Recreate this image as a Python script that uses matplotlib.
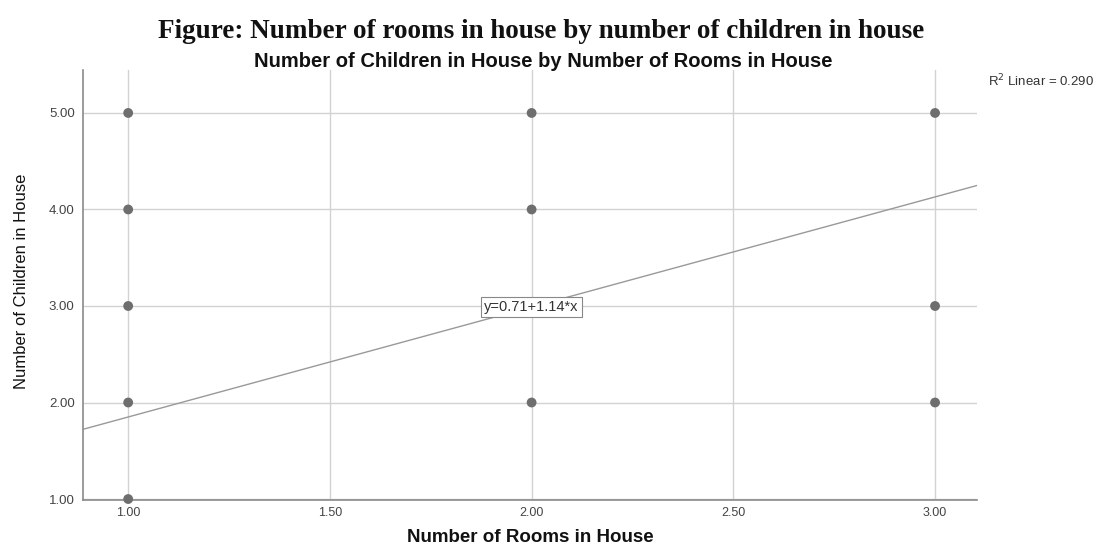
import matplotlib
matplotlib.use("Agg")
import matplotlib.pyplot as plt
import numpy as np

# Observations: rooms in house vs. children in house
rooms = [1, 1, 1, 1, 1, 2, 2, 2, 3, 3, 3]
children = [1, 2, 3, 4, 5, 2, 4, 5, 2, 3, 5]

# Linear fit reported for the data
intercept = 0.71
slope = 1.14
r_squared = 0.290

x_ticks = [1.0, 1.5, 2.0, 2.5, 3.0]
y_ticks = [1.0, 2.0, 3.0, 4.0, 5.0]

W, H = 1099, 550
fig = plt.figure(figsize=(W / 100, H / 100), dpi=100)
ax = fig.add_axes([83 / W, 50 / H, (977 - 83) / W, (500 - 70) / H])

xmin, xmax = 0.888, 3.104
ymin, ymax = 0.99, 5.445
ax.set_xlim(xmin, xmax)
ax.set_ylim(ymin, ymax)

ax.set_xticks(x_ticks)
ax.set_yticks(y_ticks)
ax.set_xticklabels([f"{v:.2f}" for v in x_ticks])
ax.set_yticklabels([f"{v:.2f}" for v in y_ticks])
ax.tick_params(axis="x", length=0, labelsize=9, labelcolor="#444444", pad=5,
               labelfontfamily="Liberation Sans")
ax.tick_params(axis="y", length=0, labelsize=9.5, labelcolor="#444444", pad=6,
               labelfontfamily="Liberation Sans")
ax.grid(True, color="#d2d2d2", linewidth=1.0)
ax.set_axisbelow(True)

for side in ["top", "right"]:
    ax.spines[side].set_visible(False)
for side in ["left", "bottom"]:
    ax.spines[side].set_color("#8a8a8a")
    ax.spines[side].set_linewidth(1.2)

# Fit line across the whole x range
xs = np.array([xmin, xmax])
ax.plot(xs, intercept + slope * xs, color="#999999", linewidth=1.0, zorder=2)

ax.scatter(rooms, children, s=50, color="#6e6e6e", edgecolors="none",
           zorder=3, clip_on=False)

ax.text(2.0, intercept + slope * 2.0 + 0.0, f"y={intercept:.2f}+{slope:.2f}*x",
        ha="center", va="center", fontsize=10.5, color="#333333",
        family="Liberation Sans", zorder=4,
        bbox=dict(boxstyle="square,pad=0.22", facecolor="white",
                  edgecolor="#888888", linewidth=0.8))

fig.text(530 / W, 1 - 542 / H, "Number of Rooms in House", fontsize=13.5,
         fontweight="bold", family="Liberation Sans", color="#111111",
         ha="center", va="baseline")
fig.text(22 / W, 1 - 281 / H, "Number of Children in House", fontsize=12,
         family="Liberation Sans", color="#111111", rotation=90,
         ha="center", va="center")

fig.text(988 / W, 1 - 81 / H, "R$^2$ Linear = 0.290", fontsize=9.5,
         family="Liberation Sans", color="#333333", ha="left", va="center")

fig.text(541 / W, 1 - 38 / H,
         "Figure: Number of rooms in house by number of children in house",
         fontsize=19.5, fontweight="bold", family="Liberation Serif",
         ha="center", va="baseline", color="#111111")
fig.text(543 / W, 1 - 67 / H,
         "Number of Children in House by Number of Rooms in House",
         fontsize=14.5, fontweight="bold", family="Liberation Sans",
         ha="center", va="baseline", color="#111111")

fig.savefig("out.png", dpi=100, facecolor="white")
